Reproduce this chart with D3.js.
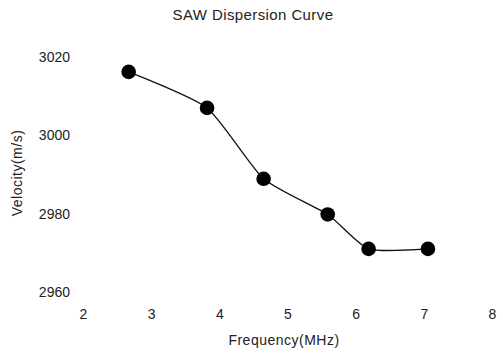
<!DOCTYPE html>
<html>
<head>
<meta charset="utf-8">
<script src="https://d3js.org/d3.v7.min.js"></script>
<style>
  body { margin: 0; background: #fff; }
  svg { font-family: "Liberation Sans", Arial, sans-serif; }
  .tick text { font-size: 14px; fill: #222; }
  .title { font-size: 15px; fill: #222; letter-spacing: 0.4px; }
  .axisTitle { font-size: 14px; fill: #222; letter-spacing: 0.5px; }
  .curve { fill: none; stroke: #111; stroke-width: 1.3px; }
  .dot { fill: #000; }
</style>
</head>
<body>
<script>
  var freq = [2.67, 3.82, 4.65, 5.59, 6.19, 7.06];
  var velocity = [3016.2, 3007.0, 2988.9, 2979.8, 2971.0, 2971.0];
  var xTicks = [2, 3, 4, 5, 6, 7, 8];
  var yTicks = [2960, 2980, 3000, 3020];

  var width = 503, height = 353;

  var svg = d3.select("body").append("svg")
      .attr("width", width)
      .attr("height", height);

  var x = d3.scaleLinear().domain([2, 8]).range([83, 492]);
  var y = d3.scaleLinear().domain([2960, 3020]).range([292, 57]);

  var points = freq.map(function(f, i) { return [f, velocity[i]]; });

  // axes without lines, labels only
  var xAxis = d3.axisBottom(x).tickValues(xTicks).tickSize(0).tickPadding(3)
      .tickFormat(d3.format("d"));
  svg.append("g")
      .attr("transform", "translate(0,306)")
      .call(xAxis)
      .call(function(g) { g.select(".domain").remove(); });

  var yAxis = d3.axisLeft(y).tickValues(yTicks).tickSize(0).tickPadding(3)
      .tickFormat(d3.format("d"));
  svg.append("g")
      .attr("transform", "translate(73,0)")
      .call(yAxis)
      .call(function(g) { g.select(".domain").remove(); });

  svg.selectAll(".tick text").attr("font-family", null).attr("font-size", null);

  var line = d3.line()
      .x(function(d) { return x(d[0]); })
      .y(function(d) { return y(d[1]); })
      .curve(d3.curveCardinal.tension(0.4));

  svg.append("path")
      .attr("class", "curve")
      .attr("d", line(points));

  svg.selectAll("circle.dot")
      .data(points)
    .enter().append("circle")
      .attr("class", "dot")
      .attr("cx", function(d) { return x(d[0]); })
      .attr("cy", function(d) { return y(d[1]); })
      .attr("r", 7.3);

  svg.append("text")
      .attr("class", "title")
      .attr("x", 253)
      .attr("y", 20)
      .attr("text-anchor", "middle")
      .text("SAW Dispersion Curve");

  svg.append("text")
      .attr("class", "axisTitle")
      .attr("x", 284)
      .attr("y", 345)
      .attr("text-anchor", "middle")
      .text("Frequency(MHz)");

  svg.append("text")
      .attr("class", "axisTitle")
      .attr("transform", "translate(22,173) rotate(-90)")
      .attr("text-anchor", "middle")
      .text("Velocity(m/s)");
</script>
</body>
</html>
